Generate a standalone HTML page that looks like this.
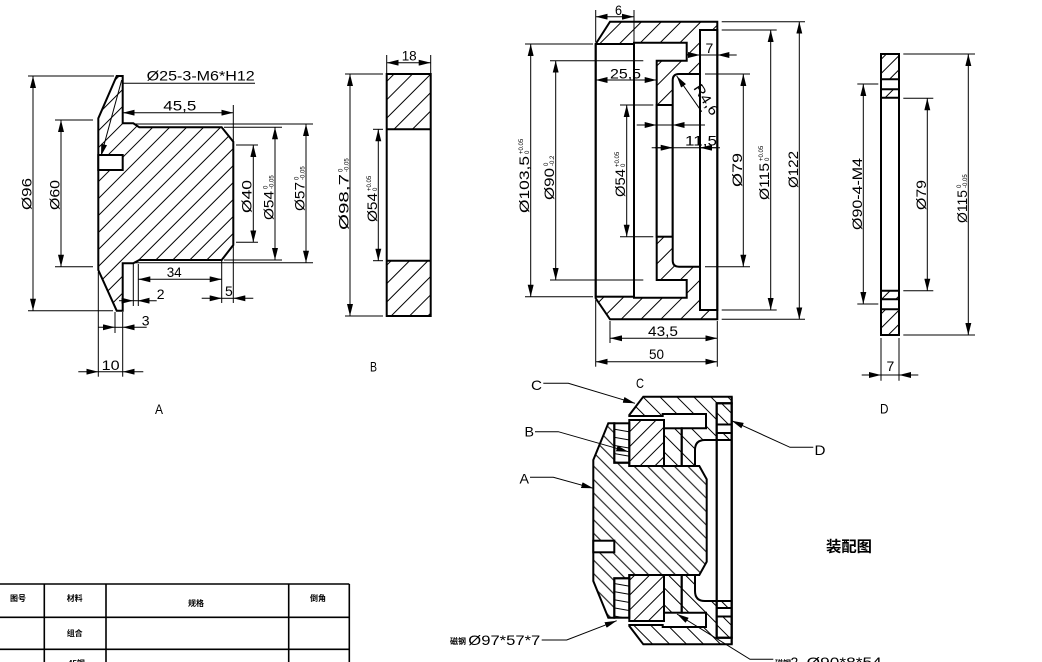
<!DOCTYPE html>
<html><head><meta charset="utf-8"><style>
html,body{margin:0;padding:0;background:#fff;}
svg{display:block}
text{font-family:"Liberation Sans","Noto Sans CJK SC",sans-serif;font-size:14px;fill:#000}
.o{fill:none;stroke:#000;stroke-width:2}
.w{fill:#fff;stroke:#000;stroke-width:2}
.t{fill:none;stroke:#000;stroke-width:1}
.tb{fill:none;stroke:#000;stroke-width:1.6}
.cj{font-family:"Liberation Sans","Noto Sans CJK SC",sans-serif;font-weight:bold;font-size:8px}
.tol{font-size:6px}
</style></head><body>
<svg width="1042" height="662" viewBox="0 0 1042 662" xmlns="http://www.w3.org/2000/svg">
<defs>
<marker id="a" viewBox="0 0 12 6" refX="12" refY="3" markerWidth="12" markerHeight="6" markerUnits="userSpaceOnUse" orient="auto-start-reverse"><path d="M0,0L12,3L0,6z" fill="#000"/></marker>
<pattern id="pa" patternUnits="userSpaceOnUse" width="12" height="12" patternTransform="rotate(45)"><line x1="6" y1="0" x2="6" y2="12" stroke="#000" stroke-width="1"/></pattern>
<pattern id="pb" patternUnits="userSpaceOnUse" width="13" height="13" patternTransform="rotate(45)"><line x1="6" y1="0" x2="6" y2="13" stroke="#000" stroke-width="1"/></pattern>
<pattern id="pc" patternUnits="userSpaceOnUse" width="14" height="14" patternTransform="rotate(45)"><line x1="7" y1="0" x2="7" y2="14" stroke="#000" stroke-width="1"/></pattern>
<pattern id="pd" patternUnits="userSpaceOnUse" width="10" height="10" patternTransform="rotate(45)"><line x1="5" y1="0" x2="5" y2="10" stroke="#000" stroke-width="1"/></pattern>
<pattern id="qA" patternUnits="userSpaceOnUse" width="9.5" height="9.5" patternTransform="rotate(-45)"><line x1="4.7" y1="0" x2="4.7" y2="9.5" stroke="#000" stroke-width="1"/></pattern>
<pattern id="qC" patternUnits="userSpaceOnUse" width="12" height="12" patternTransform="rotate(-45)"><line x1="6" y1="0" x2="6" y2="12" stroke="#000" stroke-width="1"/></pattern>
<pattern id="qB" patternUnits="userSpaceOnUse" width="10.5" height="10.5" patternTransform="rotate(45)"><line x1="5" y1="0" x2="5" y2="10.5" stroke="#000" stroke-width="1"/></pattern>
<pattern id="qM" patternUnits="userSpaceOnUse" width="8" height="8" patternTransform="rotate(-80)"><line x1="4" y1="0" x2="4" y2="8" stroke="#000" stroke-width="1"/></pattern>
<pattern id="qD" patternUnits="userSpaceOnUse" width="10" height="10" patternTransform="rotate(-45)"><line x1="5" y1="0" x2="5" y2="10" stroke="#000" stroke-width="1"/></pattern>
</defs>
<rect x="0" y="0" width="1042" height="662" fill="#fff"/>

<!-- ============ VIEW A ============ -->
<path d="M116.7,76 L122.7,76 L122.7,123.3 L133.3,123.3 L139.3,127.3 L221.7,127.3 L233.3,141.7 L233.3,245 L221.7,260 L139.3,260 L133.3,263.3 L122.7,263.3 L122.7,310.7 L116.7,310.7 L98.3,270 L98.3,118.3 Z" fill="url(#pa)" stroke="#000" stroke-width="2"/>
<rect x="98.3" y="155" width="24.4" height="15" class="w"/>
<g class="t">
<line x1="28" y1="76" x2="114" y2="76"/><line x1="28" y1="310.7" x2="113" y2="310.7"/>
<line x1="55" y1="120" x2="93" y2="120"/><line x1="55" y1="266.7" x2="93" y2="266.7"/>
<line x1="233.3" y1="105" x2="233.3" y2="303"/>
<line x1="236" y1="145" x2="258" y2="145"/><line x1="236" y1="242.3" x2="258" y2="242.3"/>
<line x1="224" y1="127.3" x2="282" y2="127.3"/><line x1="224" y1="260" x2="282" y2="260"/>
<line x1="135" y1="124" x2="313" y2="124"/><line x1="135" y1="262.7" x2="313" y2="262.7"/>
<line x1="221.7" y1="260" x2="221.7" y2="303"/>
<line x1="138.3" y1="264" x2="138.3" y2="306"/>
<line x1="133.3" y1="264" x2="133.3" y2="306"/>
<line x1="115" y1="312" x2="115" y2="333"/>
<line x1="98.3" y1="272" x2="98.3" y2="376.7"/>
<line x1="122.7" y1="312" x2="122.7" y2="376.7"/>
<line x1="122.7" y1="83.3" x2="255" y2="83.3"/>
<line x1="221.7" y1="298.3" x2="233.3" y2="298.3"/>
<line x1="133.3" y1="300.7" x2="137.7" y2="300.7"/>
<line x1="115" y1="327.3" x2="122.7" y2="327.3"/>
<line x1="98.3" y1="371.7" x2="122.7" y2="371.7"/>
</g>
<g class="t" marker-start="url(#a)" marker-end="url(#a)">
<line x1="33" y1="76" x2="33" y2="310.7"/>
<line x1="61" y1="120" x2="61" y2="266.7"/>
<line x1="122.7" y1="112.7" x2="233.3" y2="112.7"/>
<line x1="253.3" y1="145" x2="253.3" y2="242.3"/>
<line x1="275" y1="127.3" x2="275" y2="260"/>
<line x1="306" y1="124" x2="306" y2="262.7"/>
<line x1="138.3" y1="279.3" x2="221.7" y2="279.3"/>
</g>
<g class="t" marker-end="url(#a)">
<line x1="201.7" y1="298.3" x2="221.7" y2="298.3"/><line x1="253.3" y1="298.3" x2="233.3" y2="298.3"/>
<line x1="119" y1="300.7" x2="133.3" y2="300.7"/><line x1="156.7" y1="300.7" x2="137.7" y2="300.7"/>
<line x1="98.3" y1="327.3" x2="115" y2="327.3"/><line x1="146.7" y1="327.3" x2="122.7" y2="327.3"/>
<line x1="78.3" y1="371.7" x2="98.3" y2="371.7"/><line x1="143.3" y1="371.7" x2="122.7" y2="371.7"/>
<line x1="121.7" y1="80" x2="101" y2="156"/>
</g>
<text x="146.7" y="80.7" textLength="108" lengthAdjust="spacingAndGlyphs">Ø25-3-M6*H12</text>
<text x="163.3" y="110.5" textLength="33" lengthAdjust="spacingAndGlyphs">45,5</text>
<text x="166.7" y="277" textLength="15" lengthAdjust="spacingAndGlyphs">34</text>
<text x="225" y="296">5</text>
<text x="156.7" y="299">2</text>
<text x="141.7" y="325.5">3</text>
<text x="101.7" y="370" textLength="18" lengthAdjust="spacingAndGlyphs">10</text>
<text x="155" y="414" textLength="8" lengthAdjust="spacingAndGlyphs">A</text>
<g transform="translate(31.5,210) rotate(-90)"><text x="0" y="0" textLength="32" lengthAdjust="spacingAndGlyphs">Ø96</text></g>
<g transform="translate(59.5,210) rotate(-90)"><text x="0" y="0" textLength="30" lengthAdjust="spacingAndGlyphs">Ø60</text></g>
<g transform="translate(251.5,213) rotate(-90)"><text x="0" y="0" textLength="33" lengthAdjust="spacingAndGlyphs">Ø40</text></g>
<g transform="translate(273.5,220) rotate(-90)"><text x="0" y="0" textLength="29" lengthAdjust="spacingAndGlyphs">Ø54</text><text class="tol" x="31" y="-6">0</text><text class="tol" x="31" y="0">-0.05</text></g>
<g transform="translate(304.5,211) rotate(-90)"><text x="0" y="0" textLength="29" lengthAdjust="spacingAndGlyphs">Ø57</text><text class="tol" x="31" y="-6">0</text><text class="tol" x="31" y="0">-0.05</text></g>

<!-- ============ VIEW B ============ -->
<rect x="386.7" y="74" width="44" height="55.3" fill="url(#pb)"/>
<rect x="386.7" y="260.7" width="44" height="55.3" fill="url(#pb)"/>
<rect x="386.7" y="74" width="44" height="242" class="o"/>
<line x1="386.7" y1="129.3" x2="430.7" y2="129.3" class="o"/>
<line x1="386.7" y1="260.7" x2="430.7" y2="260.7" class="o"/>
<g class="t">
<line x1="386.7" y1="55" x2="386.7" y2="74"/><line x1="430.7" y1="55" x2="430.7" y2="74"/>
<line x1="345" y1="74" x2="383" y2="74"/><line x1="345" y1="316" x2="383" y2="316"/>
<line x1="373" y1="129.3" x2="383" y2="129.3"/><line x1="373" y1="260.7" x2="383" y2="260.7"/>
</g>
<g class="t" marker-start="url(#a)" marker-end="url(#a)">
<line x1="386.7" y1="62.7" x2="430.7" y2="62.7"/>
<line x1="350" y1="74" x2="350" y2="316"/>
<line x1="378.3" y1="129.3" x2="378.3" y2="260.7"/>
</g>
<text x="401.7" y="60.5" textLength="15" lengthAdjust="spacingAndGlyphs">18</text>
<text x="370" y="371.5" textLength="7" lengthAdjust="spacingAndGlyphs">B</text>
<g transform="translate(348.5,230) rotate(-90)"><text x="0" y="0" textLength="56" lengthAdjust="spacingAndGlyphs">Ø98,7</text><text class="tol" x="58" y="-6">0</text><text class="tol" x="58" y="0">-0.05</text></g>
<g transform="translate(376.8,222) rotate(-90)"><text x="0" y="0" textLength="29" lengthAdjust="spacingAndGlyphs">Ø54</text><text class="tol" x="31" y="-6">+0.05</text><text class="tol" x="31" y="0">0</text></g>

<!-- ============ VIEW C ============ -->
<path d="M610,21.7 L717.3,21.7 L717.3,319.3 L610,319.3 L595.7,298.3 L595.7,44 Z" fill="url(#pc)"/>
<rect x="595.7" y="44" width="38.3" height="252.7" class="w"/>
<path d="M634,42.7 L686.7,42.7 L686.7,60.7 L656.7,60.7 L656.7,280 L686.7,280 L686.7,297.7 L634,297.7 Z" class="w"/>
<rect x="656.7" y="105" width="16" height="131.7" class="w"/>
<path d="M700,74 L679,74 Q672.7,74 672.7,80.3 L672.7,260.4 Q672.7,266.7 679,266.7 L700,266.7 Z" class="w"/>
<rect x="700" y="30" width="17.3" height="280" class="w"/>
<path d="M610,21.7 L717.3,21.7 L717.3,319.3 L610,319.3 L595.7,298.3 L595.7,44 Z" class="o"/>
<g class="t">
<line x1="595.7" y1="10" x2="595.7" y2="42"/><line x1="634" y1="10" x2="634" y2="42"/>
<line x1="525" y1="44" x2="593" y2="44"/><line x1="525" y1="296.7" x2="593" y2="296.7"/>
<line x1="550" y1="60.7" x2="643.3" y2="60.7"/><line x1="550" y1="280" x2="643.3" y2="280"/>
<line x1="620" y1="105" x2="653.3" y2="105"/><line x1="620" y1="236.7" x2="653.3" y2="236.7"/>
<line x1="636.7" y1="125" x2="705" y2="125"/>
<line x1="651.7" y1="147.7" x2="720" y2="147.7"/>
<line x1="686.7" y1="55" x2="736.7" y2="55"/>
<line x1="705" y1="74" x2="750" y2="74"/><line x1="705" y1="266.7" x2="750" y2="266.7"/>
<line x1="721.7" y1="30" x2="776.7" y2="30"/><line x1="721.7" y1="310" x2="776.7" y2="310"/>
<line x1="721.7" y1="21.7" x2="805" y2="21.7"/><line x1="721.7" y1="319.3" x2="805" y2="319.3"/>
<line x1="610" y1="321" x2="610" y2="343"/><line x1="717.3" y1="321" x2="717.3" y2="366.7"/>
<line x1="595.7" y1="300" x2="595.7" y2="366.7"/>
</g>
<g class="t" marker-start="url(#a)" marker-end="url(#a)">
<line x1="595.7" y1="16.7" x2="634" y2="16.7"/>
<line x1="530.7" y1="44" x2="530.7" y2="296.7"/>
<line x1="555.7" y1="60.7" x2="555.7" y2="280"/>
<line x1="595.7" y1="80" x2="656.7" y2="80"/>
<line x1="626.7" y1="105" x2="626.7" y2="236.7"/>
<line x1="743.3" y1="74" x2="743.3" y2="266.7"/>
<line x1="770.7" y1="30" x2="770.7" y2="310"/>
<line x1="799.3" y1="21.7" x2="799.3" y2="319.3"/>
<line x1="610" y1="338.3" x2="717.3" y2="338.3"/>
<line x1="595.7" y1="361.7" x2="717.3" y2="361.7"/>
</g>
<g class="t" marker-end="url(#a)">
<line x1="638" y1="125" x2="656.7" y2="125"/><line x1="690" y1="125" x2="672.7" y2="125"/>
<line x1="655" y1="147.7" x2="672.7" y2="147.7"/><line x1="716" y1="147.7" x2="700" y2="147.7"/>
<line x1="686.7" y1="55" x2="700" y2="55"/><line x1="734" y1="55" x2="717.3" y2="55"/>
<line x1="701.7" y1="111.7" x2="676.7" y2="76"/>
</g>
<text x="615" y="15" textLength="7" lengthAdjust="spacingAndGlyphs">6</text>
<text x="610" y="78.5" textLength="31" lengthAdjust="spacingAndGlyphs">25,5</text>
<text x="705.5" y="53">7</text>
<text x="685" y="145.5" textLength="32" lengthAdjust="spacingAndGlyphs">11,5</text>
<g transform="translate(693,88) rotate(57)"><text x="0" y="0" font-size="12" textLength="34" lengthAdjust="spacingAndGlyphs">R4,6</text></g>
<text x="648" y="336" textLength="30" lengthAdjust="spacingAndGlyphs">43,5</text>
<text x="649" y="359" textLength="15" lengthAdjust="spacingAndGlyphs">50</text>
<text x="636" y="388" textLength="8" lengthAdjust="spacingAndGlyphs">C</text>
<g transform="translate(529,213) rotate(-90)"><text x="0" y="0" textLength="57" lengthAdjust="spacingAndGlyphs">Ø103,5</text><text class="tol" x="59" y="-6">+0.05</text><text class="tol" x="59" y="0">0</text></g>
<g transform="translate(554,200) rotate(-90)"><text x="0" y="0" textLength="32" lengthAdjust="spacingAndGlyphs">Ø90</text><text class="tol" x="34" y="-6">0</text><text class="tol" x="34" y="0">-0.2</text></g>
<g transform="translate(625,197) rotate(-90)"><text x="0" y="0" textLength="28" lengthAdjust="spacingAndGlyphs">Ø54</text><text class="tol" x="30" y="-6">+0.05</text><text class="tol" x="30" y="0">0</text></g>
<g transform="translate(741.8,187) rotate(-90)"><text x="0" y="0" textLength="34" lengthAdjust="spacingAndGlyphs">Ø79</text></g>
<g transform="translate(769,200) rotate(-90)"><text x="0" y="0" textLength="37" lengthAdjust="spacingAndGlyphs">Ø115</text><text class="tol" x="39" y="-6">+0.05</text><text class="tol" x="39" y="0">0</text></g>
<g transform="translate(797.8,188) rotate(-90)"><text x="0" y="0" textLength="37" lengthAdjust="spacingAndGlyphs">Ø122</text></g>

<!-- ============ VIEW D ============ -->
<rect x="881" y="54" width="18" height="25.3" fill="url(#pd)"/>
<rect x="881" y="89.3" width="18" height="8.4" fill="url(#pd)"/>
<rect x="881" y="290.7" width="18" height="8.6" fill="url(#pd)"/>
<rect x="881" y="309.3" width="18" height="25.7" fill="url(#pd)"/>
<rect x="881" y="54" width="18" height="281" class="o"/>
<g class="o">
<line x1="881" y1="79.3" x2="899" y2="79.3"/><line x1="881" y1="89.3" x2="899" y2="89.3"/><line x1="881" y1="97.7" x2="899" y2="97.7"/>
<line x1="881" y1="290.7" x2="899" y2="290.7"/><line x1="881" y1="299.3" x2="899" y2="299.3"/><line x1="881" y1="309.3" x2="899" y2="309.3"/>
</g>
<g class="t">
<line x1="857.3" y1="84" x2="878.3" y2="84"/><line x1="857.3" y1="304" x2="878.3" y2="304"/>
<line x1="903.3" y1="98.3" x2="933.3" y2="98.3"/><line x1="903.3" y1="290.7" x2="933.3" y2="290.7"/>
<line x1="903.3" y1="54" x2="975" y2="54"/><line x1="903.3" y1="335" x2="975" y2="335"/>
<line x1="881" y1="338" x2="881" y2="380.7"/><line x1="899" y1="338" x2="899" y2="380.7"/>
<line x1="881" y1="375" x2="899" y2="375"/>
</g>
<g class="t" marker-start="url(#a)" marker-end="url(#a)">
<line x1="863.3" y1="84" x2="863.3" y2="304"/>
<line x1="927.3" y1="98.3" x2="927.3" y2="290.7"/>
<line x1="968.3" y1="54" x2="968.3" y2="335"/>
</g>
<g class="t" marker-end="url(#a)">
<line x1="861.7" y1="375" x2="881" y2="375"/><line x1="918.3" y1="375" x2="899" y2="375"/>
</g>
<text x="886.5" y="371">7</text>
<text x="880" y="413.3" textLength="8.5" lengthAdjust="spacingAndGlyphs">D</text>
<g transform="translate(861.8,230) rotate(-90)"><text x="0" y="0" textLength="72" lengthAdjust="spacingAndGlyphs">Ø90-4-M4</text></g>
<g transform="translate(925.8,210) rotate(-90)"><text x="0" y="0" textLength="30" lengthAdjust="spacingAndGlyphs">Ø79</text></g>
<g transform="translate(966.8,223) rotate(-90)"><text x="0" y="0" textLength="33" lengthAdjust="spacingAndGlyphs">Ø115</text><text class="tol" x="35" y="-6">0</text><text class="tol" x="35" y="0">-0.05</text></g>

<!-- ============ ASSEMBLY ============ -->
<path d="M643.3,396.7 L731.7,396.7 L731.7,403.3 L716.7,403.3 L716.7,440 L705,440 Q695,440 695,450 L695,466 L681.7,466 L681.7,428.3 L706,428.3 L706,414 L662.7,414 L662.7,416 L629.3,416 L629.3,415 Z" fill="url(#qC)" stroke="#000" stroke-width="2"/>
<path d="M643.3,644.3 L731.7,644.3 L731.7,637.7 L716.7,637.7 L716.7,601 L705,601 Q695,601 695,591 L695,575 L681.7,575 L681.7,612.7 L706,612.7 L706,627 L662.7,627 L662.7,625 L629.3,625 L629.3,626 Z" fill="url(#qC)" stroke="#000" stroke-width="2"/>
<path d="M593.3,460 L608.3,423.3 L614.3,423.3 L614.3,462.7 L629.3,462.7 L629.3,466 L699.3,466 L706.7,479.3 L706.7,561.7 L699.3,575 L629.3,575 L629.3,578.3 L614.3,578.3 L614.3,617.7 L608.3,617.7 L593.3,581 Z" fill="url(#qA)" stroke="#000" stroke-width="2"/>
<rect x="593.3" y="540.7" width="21" height="11.6" class="w"/>
<rect x="629.3" y="420" width="34.7" height="46" fill="url(#qB)" stroke="#000" stroke-width="2"/>
<rect x="629.3" y="575" width="34.7" height="46" fill="url(#qB)" stroke="#000" stroke-width="2"/>
<rect x="614.3" y="423.3" width="15" height="39.4" fill="url(#qM)" stroke="#000" stroke-width="2"/>
<rect x="614.3" y="578.3" width="15" height="39.4" fill="url(#qM)" stroke="#000" stroke-width="2"/>
<rect x="664" y="428.3" width="17.7" height="37.7" fill="url(#qC)" stroke="#000" stroke-width="2"/>
<rect x="664" y="575" width="17.7" height="37.7" fill="url(#qC)" stroke="#000" stroke-width="2"/>
<rect x="716.7" y="403.3" width="15" height="234.4" class="w"/>
<rect x="716.7" y="403.3" width="15" height="21.2" fill="url(#qD)"/>
<rect x="716.7" y="433" width="15" height="7" fill="url(#qD)"/>
<rect x="716.7" y="601" width="15" height="7" fill="url(#qD)"/>
<rect x="716.7" y="616.5" width="15" height="21.2" fill="url(#qD)"/>
<rect x="716.7" y="403.3" width="15" height="234.4" class="o"/>
<g class="o">
<line x1="716.7" y1="424.5" x2="731.7" y2="424.5"/><line x1="716.7" y1="433" x2="731.7" y2="433"/><line x1="716.7" y1="440" x2="731.7" y2="440"/>
<line x1="716.7" y1="601" x2="731.7" y2="601"/><line x1="716.7" y1="608" x2="731.7" y2="608"/><line x1="716.7" y1="616.5" x2="731.7" y2="616.5"/>
<line x1="731.7" y1="396.7" x2="731.7" y2="644.3"/>
</g>
<!-- leaders -->
<g class="t" marker-end="url(#a)">
<polyline points="543.3,383.3 568.3,383.3 635,403.3"/>
<polyline points="535,431.7 558.3,431.7 628.3,451.7"/>
<polyline points="530,477.3 553.3,477.3 593.3,488.3"/>
<polyline points="813.3,447.3 790,447.3 731.7,420.7"/>
<polyline points="541.7,640 566.7,640 616.7,620.7"/>
<polyline points="773.3,659.3 750,659.3 677,614"/>
</g>
<text x="531" y="390" font-size="17" textLength="11" lengthAdjust="spacingAndGlyphs">C</text>
<text x="524.5" y="436.7" font-size="16" textLength="9.5" lengthAdjust="spacingAndGlyphs">B</text>
<text x="519.5" y="483.3" font-size="16" textLength="9.5" lengthAdjust="spacingAndGlyphs">A</text>
<text x="814.5" y="455" font-size="17" textLength="11" lengthAdjust="spacingAndGlyphs">D</text>
<text class="cj" x="450" y="644" font-size="9">磁钢</text>
<text x="468.3" y="645" textLength="72" lengthAdjust="spacingAndGlyphs">Ø97*57*7</text>
<text class="cj" x="775" y="666">磁钢</text>
<text x="790.5" y="667">2</text>
<text x="806.7" y="667" textLength="75" lengthAdjust="spacingAndGlyphs">Ø90*8*54</text>
<text x="826" y="551.5" style="font-weight:bold;font-size:15px" textLength="46" lengthAdjust="spacingAndGlyphs">装配图</text>

<!-- ============ TABLE ============ -->
<g class="tb">
<line x1="0" y1="584" x2="349.3" y2="584"/>
<line x1="0" y1="617.3" x2="349.3" y2="617.3"/>
<line x1="0" y1="649.3" x2="349.3" y2="649.3"/>
<line x1="44.3" y1="584" x2="44.3" y2="662"/>
<line x1="106" y1="584" x2="106" y2="662"/>
<line x1="288.7" y1="584" x2="288.7" y2="662"/>
<line x1="349.3" y1="584" x2="349.3" y2="662"/>
</g>
<text class="cj" x="10" y="601">图号</text>
<text class="cj" x="66.7" y="601">材料</text>
<text class="cj" x="188" y="606">规格</text>
<text class="cj" x="310" y="601">倒角</text>
<text class="cj" x="66.7" y="636">组合</text>
<text class="cj" x="68" y="666">45钢</text>
</svg>
</body></html>
